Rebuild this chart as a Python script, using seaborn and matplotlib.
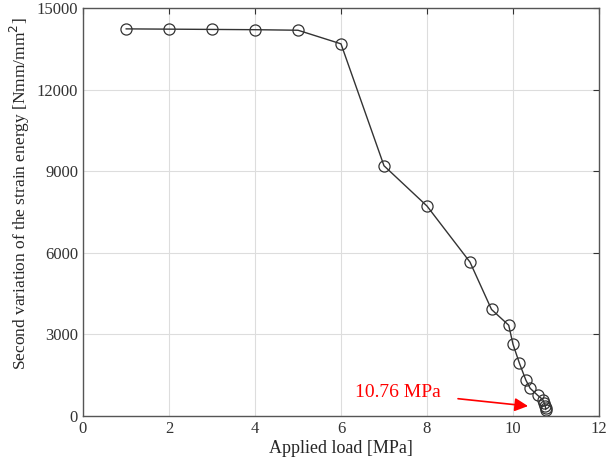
import pandas as pd
import matplotlib.pyplot as plt
import seaborn as sns

load = [1, 2, 3, 4, 5, 6, 7, 8, 9, 9.5, 9.9, 10.0, 10.15, 10.3, 10.4, 10.57, 10.69, 10.73, 10.75, 10.76, 10.76]
energy = [14230, 14220, 14210, 14200, 14180, 13680, 9200, 7720, 5660, 3920, 3340, 2640, 1940, 1320, 1020,
          770, 610, 470, 370, 290, 240]

df = pd.DataFrame({"load": load, "energy": energy})

sns.set_style("white")
plt.rcParams['font.family'] = ['Liberation Serif', 'DejaVu Serif']

fig = plt.figure(figsize=(6.1, 4.66), dpi=100)
ax = fig.add_axes([0.136, 0.107, 0.846, 0.876])

sns.lineplot(
    data=df, x="load", y="energy",
    estimator=None, sort=False,
    color="#333333", linewidth=1.0,
    marker="o", markersize=8, markerfacecolor="none",
    markeredgecolor="#333333", markeredgewidth=0.9,
    ax=ax
)

ax.set_xlim(0, 12)
ax.set_ylim(0, 15000)
ax.set_xticks(range(0, 13, 2))
ax.set_yticks(range(0, 15001, 3000))
ax.grid(True, color="#dddddd", linewidth=0.8)
ax.tick_params(direction="in", top=True, right=True, length=4, labelsize=12, colors="#333333")
for s in ax.spines.values():
    s.set_color("#555555")
    s.set_linewidth(1.0)

ax.set_xlabel("Applied load [MPa]", fontsize=13, labelpad=2)
ax.set_ylabel("Second variation of the strain energy [Nmm/mm$^2$]", fontsize=12.5)
ax.yaxis.set_label_coords(-0.099, 0.545)

ax.annotate("10.76 MPa", xy=(10.35, 370), xytext=(6.33, 560),
            color="red", fontsize=14, va="bottom", ha="left",
            arrowprops=dict(arrowstyle="-|>", color="red", lw=1.2, mutation_scale=20,
                            shrinkA=10, shrinkB=0),
            annotation_clip=False)

fig.savefig("out.png", dpi=100)
